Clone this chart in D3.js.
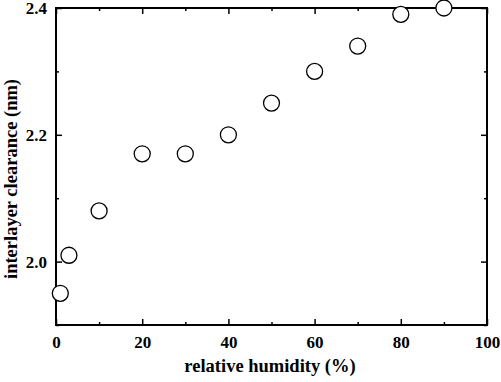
<!doctype html>
<html lang="en">
  <head>
    <meta charset="UTF-8" />
    <script src="https://unpkg.com/d3@7.9.0/dist/d3.min.js"></script>
    <style>
      body {
        margin: 0;
        background: #fff;
        overflow: hidden;
      }
      text {
        font-family: 'Liberation Serif', 'Times New Roman', serif;
        font-weight: bold;
        fill: #000;
      }
      .tick text {
        font-size: 17px;
      }
      .axis-label {
        font-size: 18.5px;
      }
    </style>
  </head>
  <body>
    <svg width="501" height="382"></svg>
    <script>
      const humidity = [1, 3, 10, 20, 30, 40, 50, 60, 70, 80, 90];
      const clearance = [1.95, 2.01, 2.08, 2.17, 2.17, 2.2, 2.25, 2.3, 2.34, 2.39, 2.4];
      const xMajor = [0, 20, 40, 60, 80, 100];
      const xMinor = [10, 30, 50, 70, 90];
      const yMajor = [2.0, 2.2, 2.4];
      const yMinor = [1.9, 2.1, 2.3];

      const margin = { top: 8, right: 14, bottom: 57, left: 56 },
        width = 501 - margin.left - margin.right,
        height = 382 - margin.top - margin.bottom;

      const svg = d3
        .select('svg')
        .append('g')
        .attr('transform', `translate(${margin.left},${margin.top})`);

      const x = d3.scaleLinear().domain([0, 100]).range([0, width]);
      const y = d3.scaleLinear().domain([1.9, 2.4]).range([height, 0]);

      // inward ticks on all four sides
      function ticks(axis, vals, size, labels, pad) {
        return axis
          .tickValues(vals)
          .tickSizeInner(-size)
          .tickSizeOuter(0)
          .tickPadding(labels ? pad : 0)
          .tickFormat(labels ? labels : '');
      }

      svg.append('g')
        .attr('transform', `translate(0,${height})`)
        .call(ticks(d3.axisBottom(x), xMajor, 6, d3.format('d'), 11));
      svg.append('g')
        .attr('transform', `translate(0,${height})`)
        .call(ticks(d3.axisBottom(x), xMinor, 3));
      svg.append('g').call(ticks(d3.axisTop(x), xMajor, 6));
      svg.append('g').call(ticks(d3.axisTop(x), xMinor, 3));

      svg.append('g').call(ticks(d3.axisLeft(y), yMajor, 6, d3.format('.1f'), 9));
      svg.append('g').call(ticks(d3.axisLeft(y), yMinor, 3));
      svg.append('g')
        .attr('transform', `translate(${width},0)`)
        .call(ticks(d3.axisRight(y), yMajor, 6));
      svg.append('g')
        .attr('transform', `translate(${width},0)`)
        .call(ticks(d3.axisRight(y), yMinor, 3));

      svg.selectAll('.domain').remove();
      svg.selectAll('.tick line').attr('stroke', '#000').attr('stroke-width', 1.5);

      svg.append('rect')
        .attr('width', width)
        .attr('height', height)
        .attr('fill', 'none')
        .attr('stroke', '#000')
        .attr('stroke-width', 2);

      svg.selectAll('circle.pt')
        .data(humidity.map((h, i) => ({ h, c: clearance[i] })))
        .enter()
        .append('circle')
        .attr('class', 'pt')
        .attr('cx', (d) => x(d.h))
        .attr('cy', (d) => y(d.c))
        .attr('r', 8)
        .attr('fill', '#fff')
        .attr('stroke', '#000')
        .attr('stroke-width', 1.3);

      svg.append('text')
        .attr('class', 'axis-label')
        .attr('x', 270 - margin.left)
        .attr('y', 372 - margin.top)
        .attr('text-anchor', 'middle')
        .text('relative humidity (%)');

      svg.append('text')
        .attr('class', 'axis-label')
        .attr('transform', 'rotate(-90)')
        .attr('x', -(179 - margin.top))
        .attr('y', 17 - margin.left)
        .attr('text-anchor', 'middle')
        .text('interlayer clearance (nm)');
    </script>
  </body>
</html>
